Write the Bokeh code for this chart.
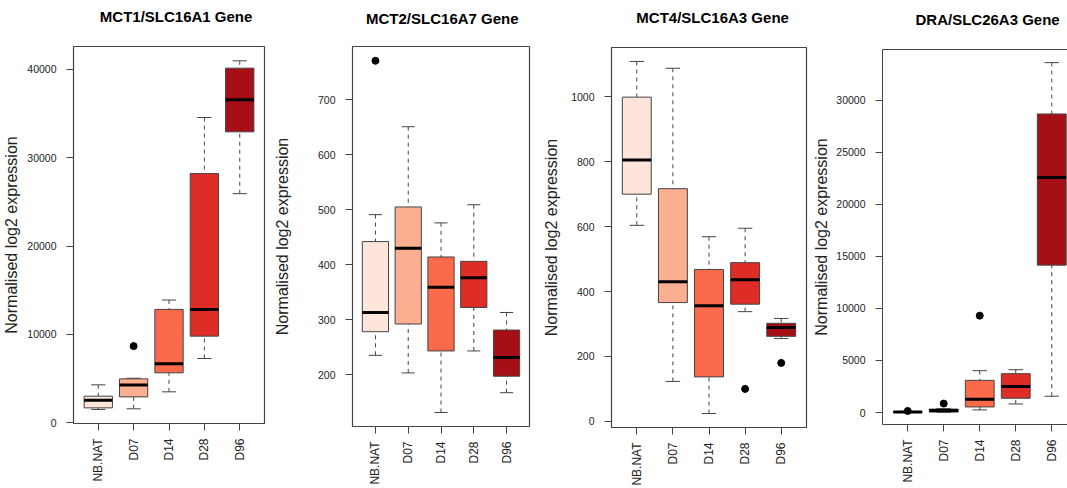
import math

from bokeh.plotting import figure
from bokeh.layouts import row, column
from bokeh.models import FixedTicker, Range1d, LinearAxis
from bokeh.core.properties import value
from bokeh.embed import file_html
from bokeh.resources import INLINE

# Sample groups and their box colours (ColorBrewer "Reds", 5 classes)
groups = ["NB.NAT", "D07", "D14", "D28", "D96"]
box_colors = ["#FEE5D9", "#FCAE91", "#FB6A4A", "#DE2D26", "#A50F15"]

# MCT1/SLC16A1: whisker ends, quartiles and medians per group
mct1_lower = [1520, 1590, 3510, 7280, 25920]
mct1_q1 = [1700, 2940, 5660, 9810, 32910]
mct1_median = [2570, 4270, 6680, 12830, 36530]
mct1_q3 = [3020, 4980, 12830, 28190, 40110]
mct1_upper = [4300, 5050, 13890, 34530, 40940]
mct1_out_group = ["D07"]
mct1_out_value = [8680]

# MCT2/SLC16A7
mct2_lower = [235, 203, 131, 243, 167]
mct2_q1 = [278, 292, 243, 322, 197]
mct2_median = [313, 430, 359, 376, 231]
mct2_q3 = [442, 505, 414, 406, 281]
mct2_upper = [491, 651, 476, 509, 313]
mct2_out_group = ["NB.NAT"]
mct2_out_value = [771]

# MCT4/SLC16A3
mct4_lower = [604, 123, 24, 338, 255]
mct4_q1 = [700, 366, 137, 361, 262]
mct4_median = [805, 430, 356, 436, 289]
mct4_q3 = [999, 717, 468, 489, 302]
mct4_upper = [1109, 1088, 569, 595, 317]
mct4_out_group = ["D28", "D96"]
mct4_out_value = [100, 180]

# DRA/SLC26A3
dra_lower = [5, 20, 250, 820, 1565]
dra_q1 = [15, 40, 535, 1370, 14150]
dra_median = [45, 190, 1270, 2490, 22570]
dra_q3 = [80, 330, 3090, 3730, 28660]
dra_upper = [110, 380, 4015, 4110, 33590]
dra_out_group = ["NB.NAT", "D07", "D14"]
dra_out_value = [150, 860, 9300]

# Y-axis tick values for each panel
mct1_ticks = [0, 10000, 20000, 30000, 40000]
mct2_ticks = [200, 300, 400, 500, 600, 700]
mct4_ticks = [0, 200, 400, 600, 800, 1000]
dra_ticks = [0, 5000, 10000, 15000, 20000, 25000, 30000]

FRAME = "#444444"
TEXT = "#222222"
FONT = "Liberation Sans"
HEAD_H = 40            # height of the heading strip above each panel
PLOT_H = 488 - HEAD_H  # height of each boxplot figure


def heading(text, width, cx, baseline):
    """A bare strip holding the bold panel heading."""
    h = figure(width=width, height=HEAD_H,
               x_range=Range1d(0, width), y_range=Range1d(0, HEAD_H),
               x_axis_location=None, y_axis_location=None,
               output_backend="svg", toolbar_location=None,
               min_border_left=0, min_border_right=0,
               min_border_top=0, min_border_bottom=0,
               outline_line_color=None, background_fill_color="white",
               border_fill_color="white")
    h.grid.visible = False
    h.text(x=[cx], y=[HEAD_H - baseline], text=[text],
           text_align="center", text_baseline="alphabetic",
           text_font=value(FONT), text_font_size="15px",
           text_font_style="bold", text_color="black")
    return h


def boxplot_panel(lower, q1, median, q3, upper, out_group, out_value,
                  yticks, yrange, xend, width, left, right, top, bottom,
                  label_standoff, open_right=False):
    xs = list(range(1, len(groups) + 1))
    pos = dict(zip(groups, xs))

    p = figure(width=width, height=PLOT_H,
               x_range=Range1d(0.3, xend), y_range=Range1d(*yrange),
               output_backend="svg", toolbar_location=None,
               min_border_left=left, min_border_right=right,
               min_border_top=top, min_border_bottom=bottom,
               background_fill_color="white", border_fill_color="white")
    p.grid.visible = False

    # frame
    if open_right:
        p.outline_line_color = None
    else:
        p.outline_line_color = FRAME
        p.outline_line_width = 1.2

    # axes
    for ax in (p.xaxis[0], p.yaxis[0]):
        ax.major_tick_out = 7
        ax.major_tick_in = 0
        ax.minor_tick_out = 0
        ax.minor_tick_in = 0
        ax.major_tick_line_color = FRAME
        ax.major_label_text_color = TEXT
        ax.major_label_text_font = FONT
        ax.axis_line_color = FRAME if open_right else None

    p.yaxis.ticker = FixedTicker(ticks=yticks)
    p.yaxis.major_label_standoff = 10
    p.yaxis.major_label_text_font_size = "10.5px"
    p.yaxis.axis_label = "Normalised log2 expression"
    p.yaxis.axis_label_text_font = FONT
    p.yaxis.axis_label_text_font_size = "16px"
    p.yaxis.axis_label_text_font_style = "normal"
    p.yaxis.axis_label_text_color = TEXT
    p.yaxis.axis_label_standoff = label_standoff

    p.xaxis.ticker = FixedTicker(ticks=xs)
    p.xaxis.major_label_overrides = {x: g for x, g in zip(xs, groups)}
    p.xaxis.major_label_orientation = math.pi / 2
    p.xaxis.major_label_standoff = 8
    p.xaxis.major_label_text_font_size = "12px"

    if open_right:
        top_axis = LinearAxis(ticker=FixedTicker(ticks=[]),
                              axis_line_color=FRAME, major_tick_out=0,
                              minor_tick_out=0, major_label_text_font_size="0px")
        p.add_layout(top_axis, "above")

    # whiskers (dashed) with caps
    p.segment(x0=xs, y0=upper, x1=xs, y1=q3, line_color=FRAME,
              line_width=1, line_dash="4 4")
    p.segment(x0=xs, y0=lower, x1=xs, y1=q1, line_color=FRAME,
              line_width=1, line_dash="4 4")
    p.segment(x0=[x - 0.2 for x in xs], y0=upper,
              x1=[x + 0.2 for x in xs], y1=upper, line_color=FRAME, line_width=1)
    p.segment(x0=[x - 0.2 for x in xs], y0=lower,
              x1=[x + 0.2 for x in xs], y1=lower, line_color=FRAME, line_width=1)

    # boxes and medians
    p.vbar(x=xs, width=0.8, bottom=q1, top=q3, fill_color=box_colors,
           line_color=FRAME, line_width=1)
    p.segment(x0=[x - 0.4 for x in xs], y0=median,
              x1=[x + 0.4 for x in xs], y1=median, line_color="black",
              line_width=3)

    # outliers
    p.scatter(x=[pos[g] for g in out_group], y=out_value, size=7,
              fill_color="black", line_color="black")
    return p


p1 = boxplot_panel(mct1_lower, mct1_q1, mct1_median, mct1_q3, mct1_upper,
                   mct1_out_group, mct1_out_value, mct1_ticks,
                   (-70, 42560), 5.7, 270, 68, 6, 6, 65, 4)
p2 = boxplot_panel(mct2_lower, mct2_q1, mct2_median, mct2_q3, mct2_upper,
                   mct2_out_group, mct2_out_value, mct2_ticks,
                   (105.5, 797), 5.7, 270, 60, 11, 6, 62, 24)
p3 = boxplot_panel(mct4_lower, mct4_q1, mct4_median, mct4_q3, mct4_upper,
                   mct4_out_group, mct4_out_value, mct4_ticks,
                   (-19, 1152), 5.7, 270, 67, 4, 7, 60, 8)
p4 = boxplot_panel(dra_lower, dra_q1, dra_median, dra_q3, dra_upper,
                   dra_out_group, dra_out_value, dra_ticks,
                   (-1150, 34850), 5.437, 257, 69, 0, 9, 64, 3,
                   open_right=True)

h1 = heading("MCT1/SLC16A1 Gene", 270, 145, 15.5)
h2 = heading("MCT2/SLC16A7 Gene", 270, 137, 17.5)
h3 = heading("MCT4/SLC16A3 Gene", 270, 140, 16.5)
h4 = heading("DRA/SLC26A3 Gene", 257, 146, 19)

layout = row(column(h1, p1, spacing=0), column(h2, p2, spacing=0),
             column(h3, p3, spacing=0), column(h4, p4, spacing=0),
             spacing=0)

with open("out.html", "w") as f:
    f.write(file_html(layout, INLINE))
